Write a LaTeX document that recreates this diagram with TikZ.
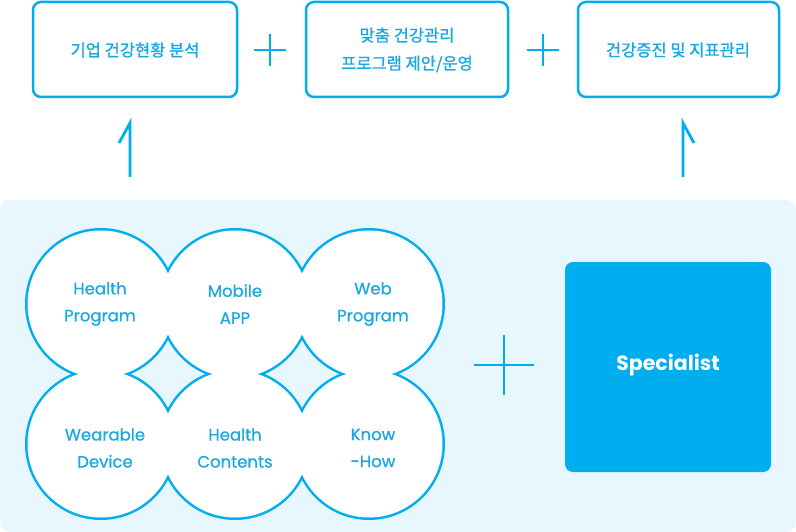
\documentclass[tikz,border=0pt]{standalone}
\usepackage{fontspec}
\setmainfont{Poppins}
\newfontfamily\kr{Noto Sans CJK KR}[FakeBold=1.2]
\newfontfamily\cf{Poppins}[FakeBold=0.7]
\definecolor{mblue}{HTML}{00AEEF}
\definecolor{tblue}{HTML}{1AA8E2}
\definecolor{panel}{HTML}{E8F7FE}
\begin{document}
\begin{tikzpicture}[x=1pt,y=-1pt,
  topbox/.style={draw=mblue,line width=2.5pt,rounded corners=8pt,fill=white},
  krtext/.style={font=\kr\fontsize{16.5}{28}\selectfont,text=tblue,align=center},
  ctext/.style={font=\cf\fontsize{16.5}{27}\selectfont,text=tblue,align=center},
  plusline/.style={draw=mblue,line width=2.2pt},
  uparrow/.style={draw=mblue,line width=2.8pt,line join=miter,miter limit=10},
  circ/.style={draw=mblue,line width=5pt},
  circfill/.style={fill=white}]
\useasboundingbox (0,0) rectangle (796,532);
% panel
\fill[panel,rounded corners=10pt] (0,200) rectangle (796,532);
% top boxes
\draw[topbox] (33,2) rectangle (237,97);
\draw[topbox] (306,2) rectangle (508,97);
\draw[topbox] (578,2) rectangle (779,97);
\node[krtext] (b1) at (135,50) {기업 건강현황 분석};
\node[krtext] (b2) at (407,50) {맞춤 건강관리\\프로그램 제안/운영};
\node[krtext] (b3) at (678,50) {건강증진 및 지표관리};
% top plus signs
\coordinate (p1) at (270,50);
\coordinate (p2) at (543,50);
\foreach \p in {p1,p2}{
  \draw[plusline] ([xshift=-16pt]\p) -- ([xshift=16pt]\p);
  \draw[plusline] ([yshift=-16pt]\p) -- ([yshift=16pt]\p);
}
% arrows
\coordinate (a1s) at (130,177);
\coordinate (a1t) at (130,123);
\coordinate (a1b) at (119,143);
\coordinate (a2s) at (683,177);
\coordinate (a2t) at (683,123);
\coordinate (a2b) at (694,143);
\draw[uparrow] (a1s) -- (a1t) -- (a1b);
\draw[uparrow] (a2s) -- (a2t) -- (a2b);
% circles
\foreach \x in {101,235,369}{
  \foreach \y in {304,444}{
    \draw[circ] (\x,\y) circle (73.5);
  }
}
\foreach \x in {101,235,369}{
  \foreach \y in {304,444}{
    \fill[circfill] (\x,\y) circle (73.5);
  }
}
\node[ctext] (c1) at (100,304) {Health\\Program};
\node[ctext] (c2) at (235,304) {Mobile\\APP};
\node[ctext] (c3) at (373,304) {Web\\Program};
\node[ctext] (c4) at (105,448) {Wearable\\Device};
\node[ctext] (c5) at (235,448) {Health\\Contents};
\node[ctext] (c6) at (373,448) {Know\\-How};
% plus in panel
\coordinate (p3) at (504,365);
\draw[plusline,line width=2pt] ([xshift=-30pt]p3) -- ([xshift=30pt]p3);
\draw[plusline,line width=2pt] ([yshift=-30pt]p3) -- ([yshift=30pt]p3);
% specialist
\fill[mblue,rounded corners=8pt] (565,262) rectangle (771,472);
\node[font=\bfseries\fontsize{20.5}{24}\selectfont,text=white] (sp) at (668,365) {Specialist};
\end{tikzpicture}
\end{document}
